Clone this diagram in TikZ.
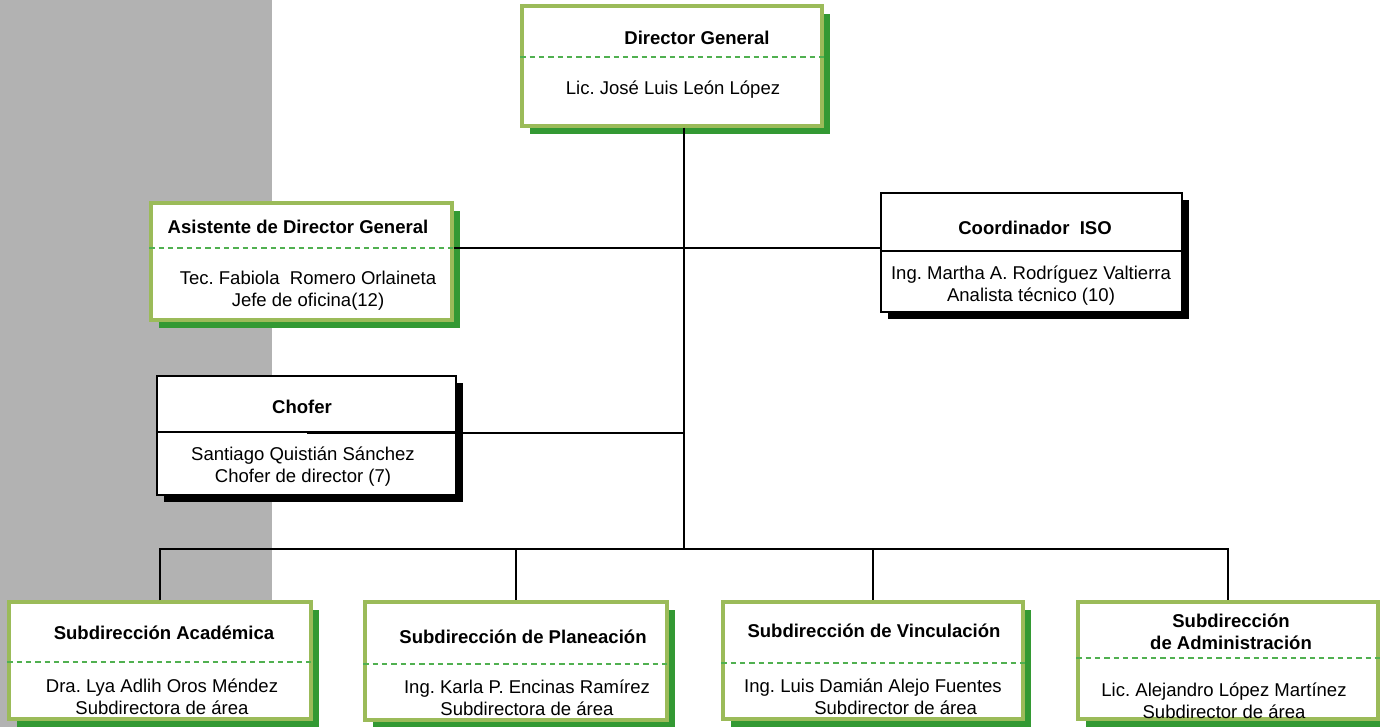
\documentclass[tikz,border=0pt]{standalone}
\usepackage{fontspec}
\setmainfont{Liberation Sans}
\frenchspacing
\usetikzlibrary{fit,shadows}
\definecolor{bandgray}{RGB}{178,178,178}
\definecolor{lightgreen}{RGB}{155,187,89}
\definecolor{darkgreen}{RGB}{51,153,51}
\definecolor{dashgreen}{RGB}{80,176,80}
\newcommand\orgfont{\fontsize{13.9}{16.5}\selectfont}

\tikzset{
  greenbox/.style={draw=lightgreen, line width=2.6pt, fill=white, inner sep=0pt,
    drop shadow={shadow xshift=6pt, shadow yshift=-6pt, fill=darkgreen, opacity=1}},
  blackbox/.style={draw=black, line width=1.8pt, fill=white, inner sep=0pt,
    drop shadow={shadow xshift=5pt, shadow yshift=-5pt, fill=black, opacity=1}},
  greensep/.style={draw=dashgreen, line width=0.8pt, dash pattern=on 4pt off 3pt},
  blacksep/.style={draw=black, line width=0.9pt},
  boxtitle/.style={font=\orgfont\bfseries, align=center, inner sep=0pt},
  boxtext/.style={font=\orgfont, align=center, inner sep=0pt},
  link/.style={draw=black, line width=1.1pt}
}

\begin{document}
\begin{tikzpicture}[x=0.75pt, y=-0.75pt]

  \useasboundingbox (0,0) rectangle (1380,727);
  \clip (0,0) rectangle (1380,727);

  % gray band on the left
  \fill[bandgray] (0,0) rectangle (272,727);

  \coordinate (lvl1) at (684,248);
  \coordinate (lvl2) at (684,433);
  \coordinate (bus) at (684,549);

  % boxes
  \node[greenbox, fit={(522,6) (822,126)}] (dir) {};
  \node[greenbox, fit={(151,203) (452,320)}] (asist) {};
  \node[blackbox, fit={(881,193) (1182,312)}] (iso) {};
  \node[blackbox, fit={(157,376) (456,495)}] (chofer) {};
  \node[greenbox, fit={(9,602) (311,719)}] (acad) {};
  \node[greenbox, fit={(365,602) (667,720)}] (plan) {};
  \node[greenbox, fit={(723,602) (1023,719)}] (vinc) {};
  \node[greenbox, fit={(1078,602) (1378,719)}] (admin) {};

  % connectors
  \draw[link] (dir.south -| bus) -- (bus);
  \draw[link] (asist.east |- lvl1) -- (iso.west |- lvl1);
  \draw[link] (acad.north) -- (acad.north |- bus) -- (admin.north |- bus) -- (admin.north);
  \draw[link] (plan.north |- bus) -- (plan.north);
  \draw[link] (vinc.north |- bus) -- (vinc.north);

  % separators
  \draw[greensep] (dir.west |- 0,57) -- (dir.east |- 0,57);
  \draw[greensep] (asist.west |- 0,248) -- (asist.east |- 0,248);
  \draw[blacksep] (iso.west |- 0,251) -- (iso.east |- 0,251);
  \draw[blacksep] (chofer.west |- 0,432) -- (chofer.east |- 0,432);
  \draw[greensep] (acad.west |- 0,662) -- (acad.east |- 0,662);
  \draw[greensep] (plan.west |- 0,664) -- (plan.east |- 0,664);
  \draw[greensep] (vinc.west |- 0,663) -- (vinc.east |- 0,663);
  \draw[greensep] (admin.west |- 0,658) -- (admin.east |- 0,658);

  % chofer line runs into the box
  \draw[link] (chofer.center |- lvl2) -- (lvl2);

  % texts
  \node[boxtitle] (dirtitle) at (697,38) {Director General};
  \node[boxtext] (dirname) at (673,90) {Lic. José Luis León López};

  \node[boxtitle] (asisttitle) at (298,227) {Asistente de Director General};
  \node[boxtext] (asistname) at (308,291) {Tec. Fabiola~~Romero Orlaineta\\Jefe de oficina(12)};

  \node[boxtitle] (isotitle) at (1035,228) {Coordinador~~ISO};
  \node[boxtext] (isoname) at (1031,286) {Ing. Martha A. Rodríguez Valtierra\\Analista técnico (10)};

  \node[boxtitle] (chofertitle) at (302,407) {Chofer};
  \node[boxtext] (chofername) at (303,467) {Santiago Quistián Sánchez\\Chofer de director (7)};

  \node[boxtitle] (acadtitle) at (164,633) {Subdirección Académica};
  \node[boxtext] (acadname) at (162,697) {Dra. Lya Adlih Oros Méndez\\Subdirectora de área};

  \node[boxtitle] (plantitle) at (523,637) {Subdirección de Planeación};
  \node[boxtext] (planname) at (527,698) {Ing. Karla P. Encinas Ramírez\\Subdirectora de área};

  \node[boxtitle] (vinctitle) at (874,631) {Subdirección de Vinculación};
  \node[boxtext] (vincname) at (873,697) {Ing. Luis Damián Alejo Fuentes\\\hspace*{34pt}Subdirector de área};

  \node[boxtitle] (admintitle) at (1231,632) {Subdirección\\de Administración};
  \node[boxtext] (adminname) at (1224,701) {Lic. Alejandro López Martínez\\Subdirector de área};

\end{tikzpicture}
\end{document}
